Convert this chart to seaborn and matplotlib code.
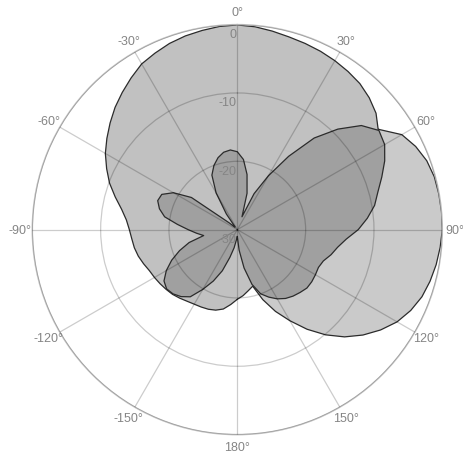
import numpy as np
import matplotlib
matplotlib.use("Agg")
import matplotlib.pyplot as plt
import seaborn as sns

# angle grid (degrees, 0 = top, clockwise), one reading every 5 deg
angles = np.arange(-180, 180, 5)

# pattern A: big front lobe (dB)
pattern_a = [-19.8, -19.0, -18.2, -17.8, -17.6, -17.5, -17.4, -17.2, -16.9,
             -16.6, -16.4, -16.2, -16.0, -15.8, -15.4, -15.0, -14.7, -14.5,
             -14.2, -13.7, -12.8, -11.5, -10.1, -8.9, -7.7, -6.7, -5.7,
             -4.7, -3.8, -2.9, -2.0, -1.5, -1.0, -0.65, -0.4, -0.15,
             -0.05, -0.2, -0.5, -0.8, -1.0, -1.2, -1.45, -1.75, -2.1,
             -2.7, -3.5, -4.8, -6.5, -8.0, -9.5, -10.8, -12.0, -13.0,
             -14.0, -15.0, -16.0, -16.8, -17.5, -18.2, -18.8, -19.3, -19.8,
             -20.2, -20.6, -20.9, -21.2, -21.4, -21.6, -21.4, -20.9, -20.3]

# pattern B: side lobe towards 90 deg (dB)
pattern_b = ([-28.5, -29.5] + [-30.0] * 37 +
             [-29.0, -27.0, -24.0, -21.0, -17.0, -13.0, -9.0, -6.0, -4.5,
              -2.2, -1.2, -0.5, -0.15, -0.05, 0.0, 0.0, -0.2, -0.45,
              -0.8, -1.25, -2.0, -3.0, -4.4, -6.0, -7.8, -9.9, -12.2,
              -14.6, -16.8, -19.1, -21.5, -24.0, -26.5])

# pattern C: multi-lobe pattern (dB)
pattern_c = [-29.0, -28.5, -27.3, -25.8, -23.6, -21.7, -19.9, -18.0, -17.2,
             -16.7, -16.5, -16.9, -18.0, -19.4, -21.0, -22.7, -25.0, -24.0,
             -22.8, -21.2, -19.2, -18.2, -17.6, -17.8, -19.2, -21.8, -28.5,
             -29.5, -29.5, -27.2, -23.8, -21.2, -20.0, -19.1, -18.5, -18.3,
             -18.6, -19.7, -21.8, -24.5, -28.0, -24.2, -20.9, -16.9, -12.5,
             -9.2, -6.3, -4.7, -5.1, -6.2, -7.5, -8.7, -9.6, -10.9,
             -12.3, -14.0, -15.1, -15.8, -16.6, -16.9, -16.8, -16.7, -16.7,
             -17.0, -17.3, -17.7, -18.3, -19.1, -20.0, -21.7, -24.3, -27.0]

theta_ticks = [0, 30, 60, 90, 120, 150, 180, 210, 240, 270, 300, 330]
theta_labels = ["0°", "30°", "60°", "90°", "120°", "150°", "180°",
                "-150°", "-120°", "-90°", "-60°", "-30°"]
r_ticks = [-30, -20, -10, 0]
r_labels = ["-30", "-20", "-10", "0"]

sns.set_theme(style="white")
plt.rcParams["font.family"] = ["Liberation Sans", "DejaVu Sans"]

fig = plt.figure(figsize=(4.63, 4.56), dpi=100)
ax = fig.add_axes([0.0698, 0.0447, 0.8855, 0.8991], projection="polar")
ax.set_theta_zero_location("N")
ax.set_theta_direction(-1)
ax.set_rlim(-30, 0)

text_col = "#858585"
edge_col = "#2b2b2b"

# drawn back to front: B, then A over it, then C on top
layers = [
    (pattern_b, "#cacaca", 1.0),
    (pattern_a, "#c1c1c1", 1.2),
    (pattern_c, "#a0a0a0", 1.4),
]
for vals, col, z in layers:
    th = np.deg2rad(np.append(angles, angles[0]))
    rr = np.append(vals, vals[0])
    ax.fill(th, rr, color=col, zorder=z, lw=0)
    sns.lineplot(x=th, y=rr, sort=False, estimator=None, ax=ax,
                 color=edge_col, lw=0.9, zorder=z + 0.05)

ax.set_xlabel("")
ax.set_ylabel("")
ax.set_thetagrids(theta_ticks, theta_labels, color=text_col, fontsize=9)
ax.set_rticks(r_ticks)
ax.set_yticklabels([])
ax.tick_params(axis="x", pad=-4)
ax.set_axisbelow(False)
ax.grid(True, color="black", alpha=0.2, lw=0.9)
ax.spines["polar"].set_color("#c0c0c0")
ax.spines["polar"].set_linewidth(1.1)

for r, lbl in zip(r_ticks, r_labels):
    ax.annotate(lbl, xy=(0, r), xytext=(-0.5, -2.5), textcoords="offset points",
                ha="right", va="top", color=text_col, fontsize=9, zorder=5)

fig.savefig("out.png", dpi=100, facecolor="white")
